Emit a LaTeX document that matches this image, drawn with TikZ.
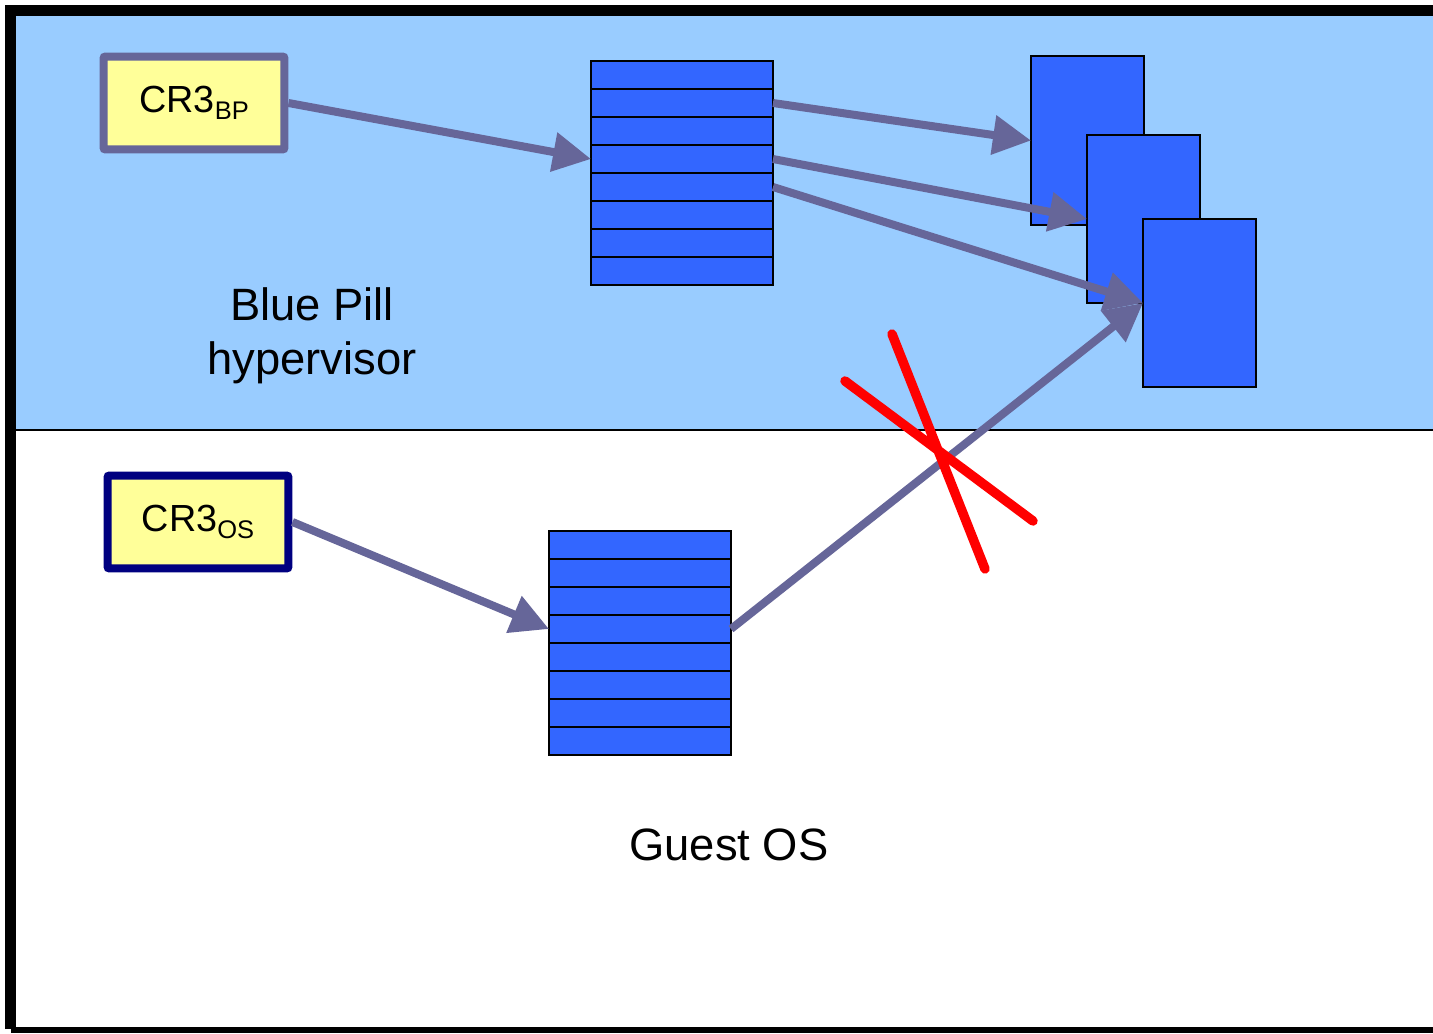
\documentclass[tikz,border=0pt]{standalone}
\usepackage{fontspec}
\setmainfont{Liberation Sans}
\usetikzlibrary{arrows.meta}

\definecolor{hvblue}{HTML}{99CCFF}
\definecolor{pgblue}{HTML}{3366FF}
\definecolor{ptrgray}{HTML}{666699}
\definecolor{regyellow}{HTML}{FFFF99}
\definecolor{osnavy}{HTML}{000080}

\begin{document}
\begin{tikzpicture}[x=0.02cm,y=-0.02cm,
    reg/.style={draw,line width=0.16cm,fill=regyellow,rounded corners=0.04cm,
      minimum width=3.62cm,minimum height=1.86cm,inner sep=0pt,
      font=\fontsize{21.5}{24}\selectfont},
    entry/.style={draw=black,line width=0.03cm,fill=pgblue,inner sep=0pt,outer sep=0pt,
      minimum width=3.64cm,minimum height=0.56cm},
    page/.style={draw=black,line width=0.04cm,fill=pgblue,inner sep=0pt,outer sep=0pt,
      minimum width=2.26cm,minimum height=3.37cm},
    ptr/.style={draw=ptrgray,line width=0.16cm,-{Triangle[length=0.76cm,width=0.76cm]}},
    label/.style={align=center,font=\fontsize{25.8}{30.6}\selectfont}]

  \clip (0,0) rectangle (1433,1034);
  \useasboundingbox (0,0) rectangle (1433,1034);

  % the two worlds
  \fill[white] (0,0) rectangle (1433,1034);
  \fill[hvblue] (16,16) rectangle (1433,430);
  \draw[black,line width=0.03cm] (16,430) -- (1433,430);
  \draw[black,line width=0.22cm] (10.5,1029) -- (10.5,10.5) -- (1460,10.5);
  \draw[black,line width=0.12cm] (10.5,1030) -- (1460,1030);

  % CR3 registers
  \node[reg,draw=ptrgray] (bp) at (194,103) {CR3\raisebox{-0.18em}{\fontsize{14.5}{15}\selectfont BP}};
  \node[reg,draw=osnavy] (os) at (198,522) {CR3\raisebox{-0.18em}{\fontsize{14.5}{15}\selectfont OS}};

  % page tables
  \foreach \i in {1,...,8}
    \node[entry] (bpt-\i) at (682,{75+28*(\i-1)}) {};
  \foreach \i in {1,...,8}
    \node[entry] (ost-\i) at (640,{545+28*(\i-1)}) {};

  % physical pages
  \node[page] (pg1) at (1087.5,140.5) {};
  \node[page] (pg2) at (1143.5,219) {};
  \node[page] (pg3) at (1199.5,303) {};

  \node[label] (hv) at (312,336) {Blue Pill\\hypervisor};
  \node[label] (guest) at (729,845) {Guest OS};

  \draw[ptr] (bp.east) -- (bpt-4.west);
  \draw[ptr] (bpt-2.east) -- (pg1.west);
  \draw[ptr] (bpt-4.east) -- (pg2.west);
  \draw[ptr] (bpt-5.east) -- (pg3.west);
  \draw[ptr] (os.east) -- (ost-4.west);
  \draw[ptr] (ost-4.east) -- (pg3.west);

  % mapping is blocked
  \coordinate (x1) at (845,381);
  \coordinate (x2) at (1033,521);
  \coordinate (x3) at (892,334);
  \coordinate (x4) at (985,569);
  \draw[red,line width=0.19cm,line cap=round] (x1) -- (x2) (x3) -- (x4);

\end{tikzpicture}
\end{document}
